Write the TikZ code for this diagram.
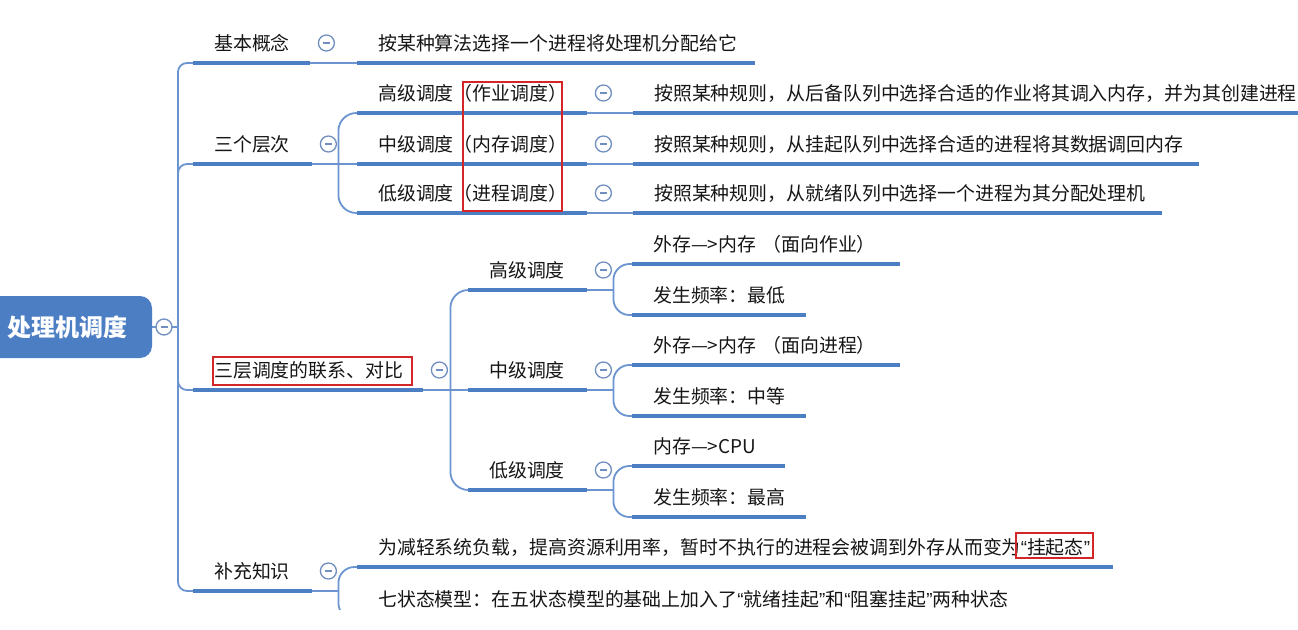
\documentclass[tikz,border=0pt]{standalone}
\usepackage{fontspec}
\setmainfont{Noto Sans CJK SC}
\newfontfamily\quotefont{Liberation Sans}
\newcommand{\qopen}{{\quotefont “}}
\newcommand{\qclose}{{\quotefont ”}}
\usepackage{tikz}
\usetikzlibrary{calc}

\definecolor{mmblue}{RGB}{76,126,196}
\definecolor{mmlink}{RGB}{108,148,208}
\definecolor{mmfold}{RGB}{112,142,192}
\definecolor{mmtext}{RGB}{22,22,22}
\definecolor{hlred}{RGB}{212,38,38}

\begin{document}
\begin{tikzpicture}[x=1pt, y=-1pt,
        root/.style={rectangle, rounded corners=12pt, fill=mmblue, text=white, minimum width=170pt, minimum height=62pt, font=\fontsize{24}{28}\selectfont\bfseries},
        topic/.style={anchor=south west, inner xsep=21pt, inner ysep=8pt, text height=14pt, text depth=4pt, align=left, text width=#1, text=mmtext, font=\fontsize{18.9}{22}\selectfont},
        fold/.style={circle, draw=mmfold, line width=1.3pt, fill=white, minimum size=16pt, inner sep=0pt,
            path picture={\draw[mmfold, line width=1.3pt] ([xshift=4.5pt]path picture bounding box.west) -- ([xshift=-4.5pt]path picture bounding box.east);}},
        uline/.style={draw=mmblue, line width=4.5pt},
        link/.style={draw=mmlink, line width=1.8pt},
        hl/.style={draw=hlred, line width=2pt}
    ]
    \useasboundingbox (0,0) rectangle (1298,629);
    \fill[white] (0,0) rectangle (1298,629);
    \begin{scope}
    \clip (0,0) rectangle (1298,609);

    \node[root] (root) at (67,327) {处理机调度};

    % 第一层
    \node[topic=75pt] (k1) at (193,63) {基本概念};
    \node[topic=77pt] (k2) at (193,164) {三个层次};
    \node[topic=188pt] (k3) at (193,390) {三层调度的联系、对比};
    \node[topic=77pt] (k4) at (193,591) {补充知识};

    % 基本概念
    \node[topic=356pt] (b1) at (357,63) {按某种算法选择一个进程将处理机分配给它};

    % 三个层次
    \node[topic=188pt] (s1) at (357,113) {高级调度（作业调度）};
    \node[topic=188pt] (s2) at (357,164) {中级调度（内存调度）};
    \node[topic=188pt] (s3) at (357,213) {低级调度（进程调度）};
    \node[topic=640pt] (t1) at (633,113) {按照某种规则，从后备队列中选择合适的作业将其调入内存，并为其创建进程};
    \node[topic=524pt] (t2) at (633,164) {按照某种规则，从挂起队列中选择合适的进程将其数据调回内存};
    \node[topic=487pt] (t3) at (633,213) {按照某种规则，从就绪队列中选择一个进程为其分配处理机};

    % 联系、对比
    \node[topic=77pt] (r1) at (468,290) {高级调度};
    \node[topic=77pt] (r2) at (468,390) {中级调度};
    \node[topic=77pt] (r3) at (468,490) {低级调度};
    \node[topic=226pt] (r1a) at (632,264) {外存—>内存\ （面向作业）};
    \node[topic=132pt] (r1b) at (632,315) {发生频率：最低};
    \node[topic=226pt] (r2a) at (632,365) {外存—>内存\ （面向进程）};
    \node[topic=132pt] (r2b) at (632,416) {发生频率：中等};
    \node[topic=111pt] (r3a) at (632,466) {内存—>CPU};
    \node[topic=132pt] (r3b) at (632,517) {发生频率：最高};

    % 补充知识
    \node[topic=714pt] (a1) at (357,567) {为减轻系统负载，提高资源利用率，暂时不执行的进程会被调到外存从而变为\qopen 挂起态\qclose};
    \node[topic=680pt] (a2) at (357,619) {七状态模型：在五状态模型的基础上加入了\qopen 就绪挂起\qclose 和\qopen 阻塞挂起\qclose 两种状态};

    % 下划线
    \foreach \n in {k1,k2,k3,k4,b1,s1,s2,s3,t1,t2,t3,r1,r2,r3,r1a,r1b,r2a,r2b,r3a,r3b,a1,a2}
        \draw[uline] (\n.south west) -- (\n.south east);

    % 根 -> 主干
    \coordinate (trunk) at (178,327);
    \draw[link] (root.east) -- (trunk);
    \foreach \n in {k1,k2,k3,k4}
        \draw[link, rounded corners=9pt] (trunk) |- (\n.south west);

    % 单个子节点
    \draw[link] (k1.south east) -- (b1.south west);
    \draw[link] (s1.south east) -- (t1.south west);
    \draw[link] (s2.south east) -- (t2.south west);
    \draw[link] (s3.south east) -- (t3.south west);

    % 分叉
    \coordinate (j2) at ($(k2.south east)+(26,0)$);
    \draw[link] (k2.south east) -- (s2.south west);
    \draw[link, rounded corners=18pt] (j2) |- (s1.south west);
    \draw[link, rounded corners=18pt] (j2) |- (s3.south west);

    \coordinate (j3) at ($(k3.south east)+(27,0)$);
    \draw[link] (k3.south east) -- (r2.south west);
    \draw[link, rounded corners=18pt] (j3) |- (r1.south west);
    \draw[link, rounded corners=18pt] (j3) |- (r3.south west);

    \foreach \p in {r1,r2,r3} {
        \coordinate (j-\p) at ($(\p.south east)+(26,0)$);
        \draw[link] (\p.south east) -- (j-\p);
        \draw[link, rounded corners=16pt] (j-\p) |- (\p a.south west);
        \draw[link, rounded corners=16pt] (j-\p) |- (\p b.south west);
    }

    \coordinate (j4) at ($(k4.south east)+(26,0)$);
    \draw[link] (k4.south east) -- (j4);
    \draw[link, rounded corners=16pt] (j4) |- (a1.south west);
    \draw[link, rounded corners=16pt] (j4) |- (a2.south west);

    % 折叠按钮
    \node[fold] (f-root) at (164,327) {};
    \foreach \n in {k1,k2,k3,k4,s1,s2,s3,r1,r2,r3}
        \node[fold] (f-\n) at ($(\n.south east)+(16,-20)$) {};

    % 红框
    \draw[hl] (463,82) rectangle (562,211);
    \draw[hl] (213,357) rectangle (412,385);
    \draw[hl] (1016,533) rectangle (1093,558);
    \end{scope}
\end{tikzpicture}
\end{document}
